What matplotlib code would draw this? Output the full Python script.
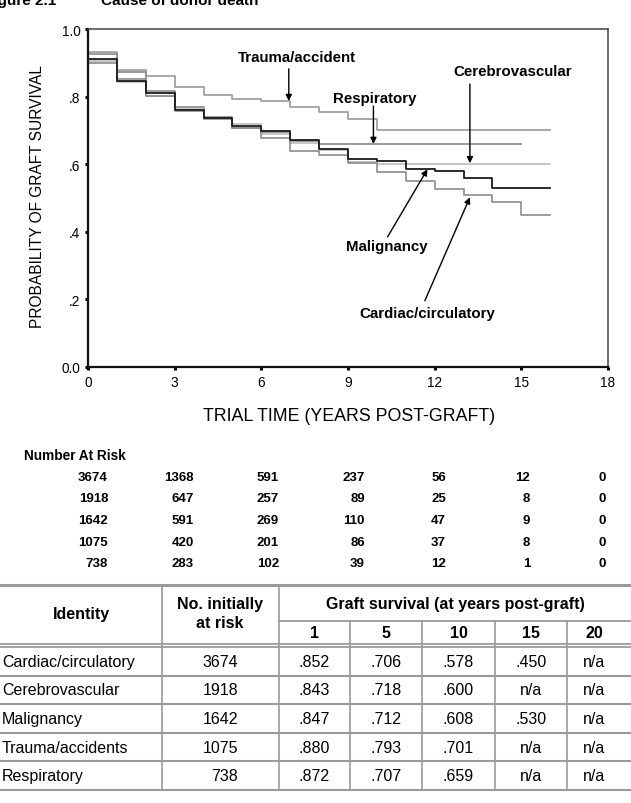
import numpy as np
import matplotlib
matplotlib.use("Agg")
import matplotlib.pyplot as plt
from matplotlib.lines import Line2D
from matplotlib import font_manager

plt.rcParams['font.family'] = ['Liberation Sans', 'DejaVu Sans']

# ---------------- data ----------------
year_edges = list(range(0, 17))
cardiac = [0.900, 0.852, 0.803, 0.758, 0.734, 0.706, 0.678, 0.638, 0.627, 0.603,
           0.578, 0.549, 0.527, 0.509, 0.489, 0.450]
cerebro = [0.905, 0.843, 0.801, 0.763, 0.737, 0.718, 0.689, 0.663, 0.643, 0.607,
           0.600, 0.600, 0.600, 0.600, 0.600, 0.600]
malignancy = [0.911, 0.847, 0.810, 0.760, 0.736, 0.712, 0.699, 0.672, 0.645, 0.615,
              0.608, 0.586, 0.579, 0.558, 0.530, 0.530]
trauma = [0.933, 0.880, 0.862, 0.827, 0.805, 0.793, 0.786, 0.768, 0.755, 0.735,
          0.701, 0.701, 0.701, 0.701, 0.701, 0.701]
respiratory = [0.926, 0.872, 0.816, 0.769, 0.740, 0.707, 0.694, 0.668, 0.659, 0.659,
               0.659, 0.659, 0.659, 0.659, 0.659]

xticks = [0, 3, 6, 9, 12, 15, 18]
yticks = [0.0, 0.2, 0.4, 0.6, 0.8, 1.0]
ytick_labels = ['0.0', '.2', '.4', '.6', '.8', '1.0']

risk_cardiac = [3674, 1368, 591, 237, 56, 12, 0]
risk_cerebro = [1918, 647, 257, 89, 25, 8, 0]
risk_malignancy = [1642, 591, 269, 110, 47, 9, 0]
risk_trauma = [1075, 420, 201, 86, 37, 8, 0]
risk_respiratory = [738, 283, 102, 39, 12, 1, 0]

table_identity = ['Cardiac/circulatory', 'Cerebrovascular', 'Malignancy',
                  'Trauma/accidents', 'Respiratory']
table_initial = [3674, 1918, 1642, 1075, 738]
table_years = ['1', '5', '10', '15', '20']
surv_cardiac = ['.852', '.706', '.578', '.450', 'n/a']
surv_cerebro = ['.843', '.718', '.600', 'n/a', 'n/a']
surv_malignancy = ['.847', '.712', '.608', '.530', 'n/a']
surv_trauma = ['.880', '.793', '.701', 'n/a', 'n/a']
surv_respiratory = ['.872', '.707', '.659', 'n/a', 'n/a']

# narrow font if available
names = {f.name for f in font_manager.fontManager.ttflist}
if 'Liberation Sans Narrow' in names:
    narrow_family = ['Liberation Sans Narrow']
    risk_size = 10.8
else:
    narrow_family = ['Liberation Sans']
    risk_size = 9.5

# ---------------- figure ----------------
W, H = 631, 804
fig = plt.figure(figsize=(W / 100, H / 100), dpi=100)


def fx(x):
    return x / W


def fy(y):
    return 1 - y / H


ax_l, ax_r, ax_t, ax_b = 88, 608, 30, 368
ax = fig.add_axes([fx(ax_l), fy(ax_b), (ax_r - ax_l) / W, (ax_b - ax_t) / H])


def stepline(vals, color, lw=1.2, z=2):
    xs = year_edges[:len(vals) + 1]
    ys = list(vals) + [vals[-1]]
    ax.step(xs, ys, where='post', color=color, lw=lw, zorder=z)


stepline(trauma, '#999999')
stepline(respiratory, '#8a8a8a')
stepline(cerebro, '#bbbbbb')
stepline(cardiac, '#8c8c8c')
stepline(malignancy, '#1a1a1a', lw=1.3, z=3)

ax.set_xlim(0, 18)
ax.set_ylim(0, 1.0)
ax.set_xticks(xticks)
ax.set_xticklabels([str(t) for t in xticks])
ax.set_yticks(yticks)
ax.set_yticklabels(ytick_labels)
ax.tick_params(direction='out', length=2.5, width=2.2, labelsize=9.8, pad=3,
               color='black')
for s in ['left', 'bottom']:
    ax.spines[s].set_linewidth(1.6)
    ax.spines[s].set_color('#111111')
for s in ['top', 'right']:
    ax.spines[s].set_linewidth(1.1)
    ax.spines[s].set_color('#444444')

fig.text(fx(37.5), fy(197), 'PROBABILITY OF GRAFT SURVIVAL', rotation=90,
         ha='center', va='center', fontsize=11.2)
fig.text(fx(349), fy(417), 'TRIAL TIME (YEARS POST-GRAFT)', ha='center',
         va='center', fontsize=12.8)

# annotations
lab_kw = dict(ha='center', va='center', fontsize=10.8, fontweight='bold')
arr_kw = dict(arrowstyle='-|>', color='black', lw=1.0, mutation_scale=9,
              shrinkA=0, shrinkB=0)
ax.text(7.23, 0.917, 'Trauma/accident', **lab_kw)
ax.annotate('', xy=(6.95, 0.787), xytext=(6.95, 0.882), arrowprops=arr_kw)
ax.text(9.93, 0.796, 'Respiratory', **lab_kw)
ax.annotate('', xy=(9.88, 0.660), xytext=(9.88, 0.772), arrowprops=arr_kw)
ax.text(14.7, 0.876, 'Cerebrovascular', **lab_kw)
ax.annotate('', xy=(13.22, 0.603), xytext=(13.22, 0.837), arrowprops=arr_kw)
ax.text(10.35, 0.358, 'Malignancy', **lab_kw)
ax.annotate('', xy=(11.75, 0.585), xytext=(10.37, 0.385), arrowprops=arr_kw)
ax.text(11.75, 0.160, 'Cardiac/circulatory', **lab_kw)
ax.annotate('', xy=(13.22, 0.502), xytext=(11.66, 0.196), arrowprops=arr_kw)

# title (cut off at top, as in the source page)
fig.text(fx(56), fy(5), 'Figure 2.1', ha='right', va='baseline', fontsize=11,
         fontweight='bold')
fig.text(fx(101), fy(5), 'Cause of donor death', ha='left', va='baseline',
         fontsize=11, fontweight='bold')

# number at risk
fig.text(fx(24), fy(456), 'Number At Risk', ha='left', va='center',
         fontsize=9.8, fontweight='bold')
risk_cols = [108, 194, 279, 365, 446, 530, 606]
risk_rows = [risk_cardiac, risk_cerebro, risk_malignancy, risk_trauma,
             risk_respiratory]
row_y = [478, 499.5, 521, 542.5, 564]
for r, yv in zip(risk_rows, row_y):
    for c, v in zip(risk_cols, r):
        fig.text(fx(c), fy(yv), str(v), ha='right', va='center',
                 fontsize=risk_size, fontweight='bold', family=narrow_family)

# ---------------- table ----------------
gray = '#9a9a9a'


def hline(x0, x1, y, lw=1.5, color=gray):
    fig.add_artist(Line2D([fx(x0), fx(x1)], [fy(y), fy(y)], color=color, lw=lw))


def vline(x, y0, y1, lw=1.2, color=gray):
    fig.add_artist(Line2D([fx(x), fx(x)], [fy(y0), fy(y1)], color=color, lw=lw))


t_top, h1, h2 = 586, 622, 645
row_h = 28.6
col_edges = [0, 162, 279, 350, 422, 495, 567, 631]

hline(0, 631, t_top, lw=2.2)
hline(279, 631, h1, lw=1.3)
hline(0, 631, h2, lw=1.3)
hline(0, 631, h2 + 3, lw=1.3)
row_tops = [h2 + 3 + i * row_h for i in range(6)]
for yv in row_tops[1:]:
    hline(0, 631, yv, lw=1.5)
vline(162, t_top, row_tops[-1])
vline(279, t_top, row_tops[-1])
for xv in col_edges[3:7]:
    vline(xv, h1, row_tops[-1])

bold = dict(fontweight='bold', fontsize=11.5)
fig.text(fx(81), fy(614), 'Identity', ha='center', va='center', **bold)
fig.text(fx(220), fy(604), 'No. initially', ha='center', va='center', **bold)
fig.text(fx(220), fy(624), 'at risk', ha='center', va='center', **bold)
fig.text(fx(455), fy(604), 'Graft survival (at years post-graft)', ha='center',
         va='center', **bold)
for i, lab in enumerate(table_years):
    cx = (col_edges[2 + i] + col_edges[3 + i]) / 2
    if i == 4:
        cx = 594
    fig.text(fx(cx), fy(634), lab, ha='center', va='center', **bold)

surv_rows = [surv_cardiac, surv_cerebro, surv_malignancy, surv_trauma,
             surv_respiratory]
for i in range(5):
    cy = row_tops[i] + row_h / 2
    fig.text(fx(2), fy(cy), table_identity[i], ha='left', va='center',
             fontsize=11.5)
    fig.text(fx(238), fy(cy), str(table_initial[i]), ha='right', va='center',
             fontsize=11.5)
    for j, v in enumerate(surv_rows[i]):
        cx = (col_edges[2 + j] + col_edges[3 + j]) / 2
        if j == 4:
            cx = 594
        fig.text(fx(cx), fy(cy), v, ha='center', va='center', fontsize=11.5)

fig.savefig('out.png', dpi=100)
